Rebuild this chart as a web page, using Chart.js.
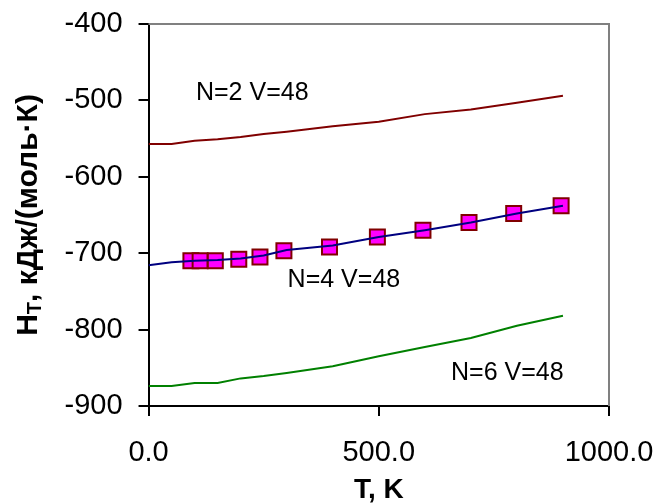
<!DOCTYPE html>
<html>
<head>
<meta charset="utf-8">
<script src="https://cdn.jsdelivr.net/npm/chart.js@4.4.1/dist/chart.umd.min.js"></script>
<style>
  html, body { margin: 0; padding: 0; background: #fff; }
  #wrap { width: 657px; height: 504px; position: relative; }
</style>
</head>
<body>
<div id="wrap"><canvas id="chart"></canvas></div>
<script>
// temperatures of the calculated curves, K
const temps = [0, 50, 100, 150, 200, 250, 300, 400, 500, 600, 700, 800, 900];
// H_T, kJ/(mol K)
const hN2 = [-557, -557, -553, -551, -548, -544, -541, -534, -528, -518, -512, -503, -494];
const hN4 = [-716, -712, -710, -709, -707, -703, -696, -690, -679, -670, -660, -648, -638];
const hN6 = [-874, -874, -870, -870, -864, -861, -857, -848, -835, -823, -811, -795, -782];
// square markers on the N=4 curve
const markTemps = [92, 112, 145, 196, 242, 294, 393, 497, 596, 696, 793, 896];
const markN4 = [-710, -710, -710, -708, -705, -697, -692, -679, -670, -660, -648, -638];

const xTicks = [0, 500, 1000];
const yTicks = [-900, -800, -700, -600, -500, -400];
const seriesNames = ['N=2 V=48', 'N=4 V=48', 'N=6 V=48'];

const FONT = '"Liberation Sans", Arial, sans-serif';
const pts = (xs, ys) => xs.map((t, i) => ({x: t, y: ys[i]}));

// where the curve names sit, in data units
const nameAnchors = [[103, -490], [302, -735], [657, -857]];

const extras = {
    id: 'extras',
    afterDraw(chart) {
        const {ctx, chartArea: a, scales: {x, y}} = chart;
        ctx.save();
        // grey frame on top and right
        ctx.strokeStyle = '#808080';
        ctx.lineWidth = 2;
        ctx.beginPath();
        ctx.moveTo(a.left, a.top);
        ctx.lineTo(a.right, a.top);
        ctx.lineTo(a.right, a.bottom);
        ctx.stroke();

        // curve names
        ctx.fillStyle = '#000';
        ctx.font = '25px ' + FONT;
        ctx.textAlign = 'left';
        ctx.textBaseline = 'middle';
        seriesNames.forEach((n, i) => {
            ctx.fillText(n, x.getPixelForValue(nameAnchors[i][0]), y.getPixelForValue(nameAnchors[i][1]));
        });

        // y title with subscript T
        const big = 'bold 30px ' + FONT, small = 'bold 20px ' + FONT;
        const parts = [['H', big, 0], ['T', small, 4], [', кДж/(моль·К)', big, 0]];
        ctx.translate(37, (a.top + a.bottom) / 2);
        ctx.rotate(-Math.PI / 2);
        ctx.textBaseline = 'alphabetic';
        let total = 0;
        parts.forEach(p => { ctx.font = p[1]; total += ctx.measureText(p[0]).width; });
        let cx = -total / 2;
        parts.forEach(p => {
            ctx.font = p[1];
            ctx.fillText(p[0], cx, p[2]);
            cx += ctx.measureText(p[0]).width;
        });
        ctx.restore();
    }
};

const ctx = document.getElementById('chart').getContext('2d');

const chart = new Chart(ctx, {
    type: 'line',
    data: {
        datasets: [{
            label: seriesNames[0],
            data: pts(temps, hN2),
            borderColor: '#800000',
            borderWidth: 2,
            pointRadius: 0
        }, {
            label: seriesNames[1],
            data: pts(temps, hN4),
            borderColor: '#000080',
            borderWidth: 2,
            pointRadius: 0
        }, {
            label: seriesNames[1] + ' points',
            data: pts(markTemps, markN4),
            showLine: false,
            pointStyle: 'rect',
            pointRadius: 10.6,
            pointBackgroundColor: '#FF00FF',
            pointBorderColor: '#800000',
            pointBorderWidth: 2
        }, {
            label: seriesNames[2],
            data: pts(temps, hN6),
            borderColor: '#008000',
            borderWidth: 2,
            pointRadius: 0
        }]
    },
    options: {
        responsive: true,
        maintainAspectRatio: false,
        animation: false,
        layout: {
            padding: {left: 48.5, right: 48, top: 24, bottom: 0}
        },
        plugins: {
            legend: {display: false},
            tooltip: {enabled: false}
        },
        scales: {
            x: {
                type: 'linear',
                min: 0,
                max: 1000,
                afterBuildTicks: s => { s.ticks = xTicks.map(v => ({value: v})); },
                ticks: {
                    color: '#000',
                    // tall line box pushes the labels down without widening the side padding
                    font: {family: FONT, size: 29, lineHeight: 2.59},
                    padding: 0,
                    maxRotation: 0,
                    callback: v => v.toFixed(1)
                },
                grid: {drawOnChartArea: false, color: '#000', lineWidth: 2, tickLength: 10},
                border: {color: '#000', width: 2},
                title: {
                    display: true,
                    text: 'T, K',
                    color: '#000',
                    font: {family: FONT, size: 28, weight: 'bold'},
                    padding: {top: -17.6, bottom: -3}
                }
            },
            y: {
                min: -900,
                max: -400,
                afterBuildTicks: s => { s.ticks = yTicks.map(v => ({value: v})); },
                ticks: {
                    color: '#000',
                    font: {family: FONT, size: 29, lineHeight: 0.5},
                    padding: 16
                },
                grid: {drawOnChartArea: false, color: '#000', lineWidth: 2, tickLength: 10},
                border: {color: '#000', width: 2}
            }
        }
    },
    plugins: [extras]
});
</script>
</body>
</html>
